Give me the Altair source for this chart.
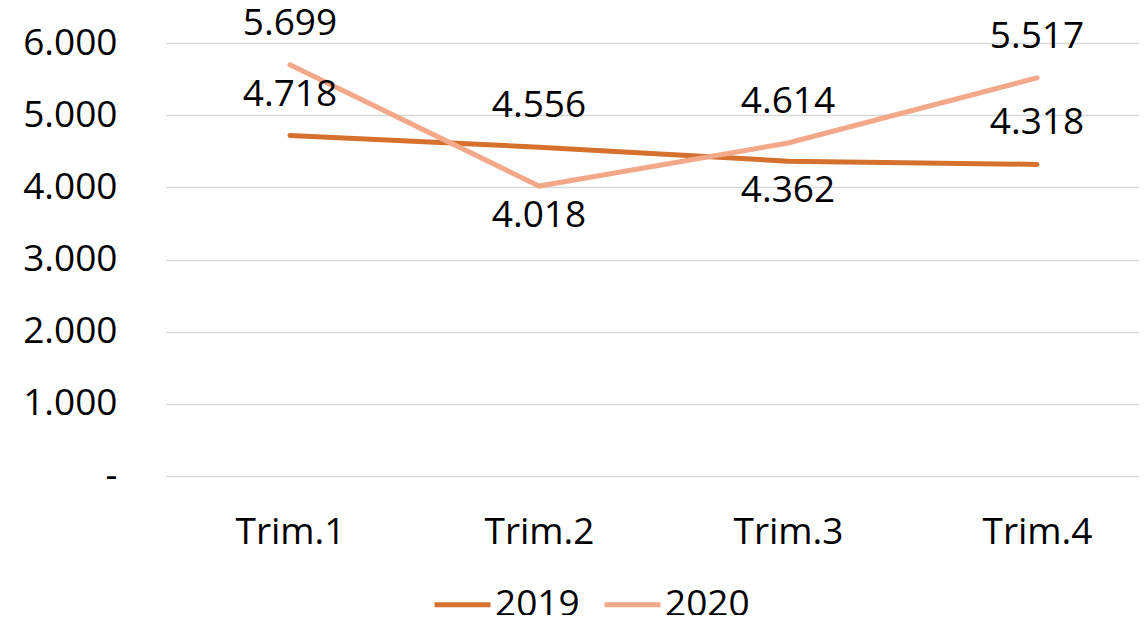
import altair as alt
import pandas as pd

quarters = ["Trim.1", "Trim.2", "Trim.3", "Trim.4"]
series = ["2019", "2020"]
v2019 = [4718, 4556, 4362, 4318]
v2020 = [5699, 4018, 4614, 5517]
pos2019 = ["above", "above", "below", "above"]
pos2020 = ["above", "below", "above", "above"]
colors = ["#D5702D", "#F3A88A"]

rows = []
for s, vals, poss in [("2019", v2019, pos2019), ("2020", v2020, pos2020)]:
    for q, v, p in zip(quarters, vals, poss):
        rows.append({"quarter": q, "series": s, "value": v, "pos": p})
df = pd.DataFrame(rows)

FONT = "Open Sans"
FS = 37

base = alt.Chart(df).encode(
    x=alt.X(
        "quarter:N",
        sort=quarters,
        scale=alt.Scale(type="point", padding=0.4538, align=0.5487),
        axis=alt.Axis(
            title=None, domain=False, ticks=False, grid=False,
            labelFont=FONT, labelFontSize=FS, labelColor="#000000",
            labelPadding=38, labelAngle=0,
        ),
    ),
    y=alt.Y(
        "value:Q",
        scale=alt.Scale(domain=[0, 6000], nice=False),
        axis=alt.Axis(
            title=None, domain=False, ticks=False, grid=True,
            gridColor="#D9D9D9", gridWidth=1.5,
            values=[0, 1000, 2000, 3000, 4000, 5000, 6000],
            labelExpr="datum.value == 0 ? '-\u00a0\u00a0' : replace(format(datum.value, ','), ',', '.')",
            labelFont=FONT, labelFontSize=FS, labelColor="#000000",
            labelPadding=49,
        ),
    ),
)

lines = base.mark_line(strokeWidth=5, strokeCap="round").encode(
    color=alt.Color(
        "series:N",
        scale=alt.Scale(domain=series, range=colors),
        legend=alt.Legend(
            title=None, orient="none", direction="horizontal",
            legendX=266, legendY=531,
            symbolType="stroke", symbolSize=3136, symbolStrokeWidth=5,
            labelFont=FONT, labelFontSize=FS, labelColor="#000000",
            labelOffset=2, columnPadding=14,
        ),
    )
)

label_expr = "replace(format(datum.value, ','), ',', '.')"

above = base.mark_text(dy=-41, font=FONT, fontSize=FS, color="#000000", baseline="middle").transform_filter(
    "datum.pos == 'above'"
).transform_calculate(label=label_expr).encode(text="label:N")

below = base.mark_text(dy=30, font=FONT, fontSize=FS, color="#000000", baseline="middle").transform_filter(
    "datum.pos == 'below'"
).transform_calculate(label=label_expr).encode(text="label:N")

chart = alt.layer(lines, above, below).properties(
    width=973,
    height=433,
    padding={"left": 158, "top": 35, "right": 0, "bottom": 139},
    autosize=alt.AutoSizeParams(type="none"),
).configure_view(stroke=None)

chart.save("out.html", embed_options={"renderer": "svg", "actions": False})
